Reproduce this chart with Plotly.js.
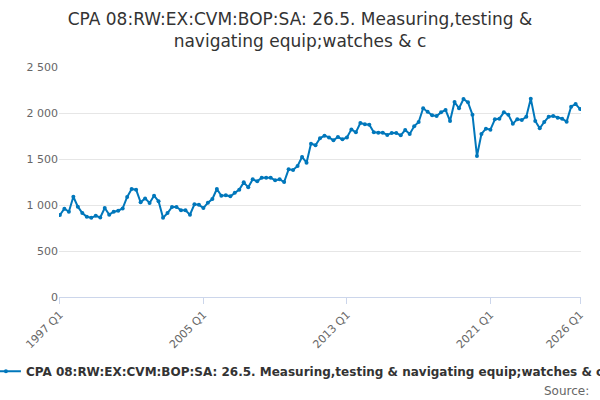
<!DOCTYPE html>
<html><head><meta charset="utf-8">
<script src="https://cdn.plot.ly/plotly-3.0.1.min.js"></script>
<style>body{margin:0}#c{width:600px;height:400px}</style></head>
<body><div id="c"></div><script>
const values=[891,960,927,1090,982,912,872,861,883,865,967,895,927,938,963,1087,1174,1167,1029,1072,1022,1101,1040,861,912,978,978,942,942,895,1007,1004,967,1025,1065,1174,1101,1105,1094,1134,1167,1246,1192,1279,1257,1297,1297,1297,1268,1279,1250,1388,1380,1424,1522,1460,1667,1649,1725,1754,1735,1703,1739,1714,1735,1822,1790,1891,1877,1873,1790,1786,1786,1761,1783,1783,1757,1815,1772,1855,1902,2051,2014,1975,1967,2007,2033,1913,2120,2051,2152,2116,1982,1533,1772,1830,1819,1931,1938,2007,1982,1884,1931,1924,1960,2156,1913,1833,1902,1960,1967,1949,1938,1906,2069,2098,2043];
const quarters=[];for(let i=0;i<values.length;i++){quarters.push((1997+Math.floor(i/4))+' Q'+(i%4+1));}
const tickLabels=['1997 Q1','2005 Q1','2013 Q1','2021 Q1','2026 Q1'];
const yTicks=[0,500,1000,1500,2000,2500];
const yTickText=['0','500','1 000','1 500','2 000','2 500'];
const seriesName='CPA 08:RW:EX:CVM:BOP:SA: 26.5. Measuring,testing & navigating equip;watches & c';
Plotly.newPlot('c',[{x:quarters,y:values,type:'scatter',mode:'lines+markers',name:seriesName,
line:{color:'#0077bb',width:2},marker:{color:'#0077bb',size:4}}],{
width:600,height:400,margin:{l:59,r:19,t:67,b:103,autoexpand:false},
paper_bgcolor:'#fff',plot_bgcolor:'#fff',
font:{family:'"DejaVu Sans", sans-serif',color:'#666'},
title:{text:'CPA 08:RW:EX:CVM:BOP:SA: 26.5. Measuring,testing &<br>navigating equip;watches & c',x:0.5,xanchor:'center',yref:'container',y:0.937,yanchor:'middle',font:{size:17,color:'#333'}},
xaxis:{type:'category',tickmode:'array',tickvals:tickLabels,ticktext:tickLabels,tickangle:-45,
showgrid:false,showline:true,linecolor:'#ccd6eb',ticks:'outside',ticklen:6,tickcolor:'#ccd6eb',
tickfont:{size:11,color:'#666'},range:[-0.2,116.2]},
yaxis:{range:[0,2500],tickvals:yTicks,ticktext:yTickText,gridcolor:'#e6e6e6',zeroline:false,showline:false,tickfont:{size:11,color:'#666'}},
showlegend:true,legend:{orientation:'h',x:-0.14,y:-0.26,xanchor:'left',yanchor:'top',itemwidth:30,font:{size:12,color:'#333',weight:'bold'}},
annotations:[{text:'Source:',xref:'paper',yref:'paper',x:1.02,y:-0.37,xanchor:'right',yanchor:'top',showarrow:false,font:{size:12,color:'#666'}}]
},{displayModeBar:false});
</script></body></html>
